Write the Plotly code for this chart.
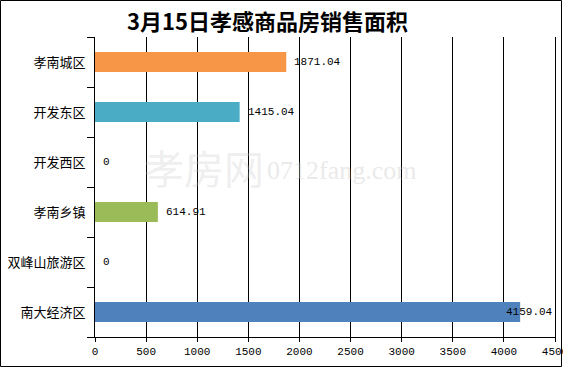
import plotly.graph_objects as go

title_text = "3月15日孝感商品房销售面积"
categories = ["孝南城区", "开发东区", "开发西区", "孝南乡镇", "双峰山旅游区", "南大经济区"]
values = [1871.04, 1415.04, 0, 614.91, 0, 4159.04]
value_labels = ["1871.04", "1415.04", "0", "614.91", "0", "4159.04"]
bar_colors = ["#F79646", "#4BACC6", "#C0504D", "#9BBB59", "#8064A2", "#4F81BD"]
x_max = 4500
x_step = 500

W, H = 563, 368
ml, mr, mt, mb = 95, 8, 37, 31
pw, ph = W - ml - mr, H - mt - mb

num_font = "Liberation Mono, Noto Sans CJK SC, monospace"
cjk_font = "Noto Sans CJK SC, sans-serif"

fig = go.Figure()
fig.add_trace(go.Bar(
    y=categories, x=values, orientation="h",
    marker=dict(color=bar_colors, line=dict(width=0)),
    width=0.4, hoverinfo="skip", cliponaxis=False,
))

annotations = []
for c, v, t in zip(categories, values, value_labels):
    if v > x_max * 0.85:
        annotations.append(dict(x=x_max, y=c, xref="x", yref="y", text=t, showarrow=False,
                                xanchor="right", font=dict(family=num_font, size=11, color="black")))
    else:
        annotations.append(dict(x=v, y=c, xref="x", yref="y", text=t, showarrow=False,
                                xanchor="left", xshift=6, font=dict(family=num_font, size=11, color="black")))

# watermark
annotations.append(dict(x=(142 - ml) / pw, y=(H - mb - 167) / ph, xref="paper", yref="paper", text="孝房网",
                        showarrow=False, xanchor="left", yanchor="middle",
                        font=dict(family=cjk_font, size=40, color="rgba(200,200,200,0.3)")))
annotations.append(dict(x=(265 - ml) / pw, y=(H - mb - 170) / ph, xref="paper", yref="paper",
                        text="0712fang.com", showarrow=False, xanchor="left", yanchor="middle",
                        font=dict(family="Liberation Serif, serif", size=26, color="rgba(200,200,200,0.4)")))

annotations.append(dict(x=(267 - ml) / pw, y=1 + (mt - 20) / ph, xref="paper", yref="paper",
                        text="<b>" + title_text + "</b>",
                        showarrow=False, xanchor="center", yanchor="middle",
                        font=dict(family=cjk_font, size=22, color="black")))

fig.update_layout(
    width=W, height=H,
    margin=dict(l=ml, r=mr, t=mt, b=mb, autoexpand=False),
    paper_bgcolor="white", plot_bgcolor="white",
    showlegend=False,
    annotations=annotations,
    shapes=[dict(type="rect", xref="paper", yref="paper",
                 x0=-(ml - 0.5) / pw, x1=1 + (mr - 1.5) / pw,
                 y0=-(mb - 1.5) / ph, y1=1 + (mt - 0.5) / ph,
                 line=dict(color="black", width=1), fillcolor="rgba(0,0,0,0)", layer="above")],
    xaxis=dict(range=[0, x_max], dtick=x_step, tick0=0, automargin=False,
               showgrid=True, gridcolor="black", gridwidth=1,
               showline=True, linecolor="black", linewidth=1,
               ticks="outside", ticklen=4, tickcolor="black",
               zeroline=False, fixedrange=True, ticklabeloverflow="allow",
               tickfont=dict(family=num_font, size=11, color="black")),
    yaxis=dict(categoryorder="array", categoryarray=categories[::-1], automargin=False,
               showline=True, mirror=True, linecolor="black", linewidth=1,
               ticks="outside", ticklen=7, tickcolor="black", tickson="boundaries",
               showgrid=False, zeroline=False, ticklabelstandoff=6,
               tickfont=dict(family=cjk_font, size=13, color="black")),
)

fig.write_html("out.html", config={"displayModeBar": False},
               post_script="document.body.style.margin='0px';document.body.style.overflow='hidden';")
